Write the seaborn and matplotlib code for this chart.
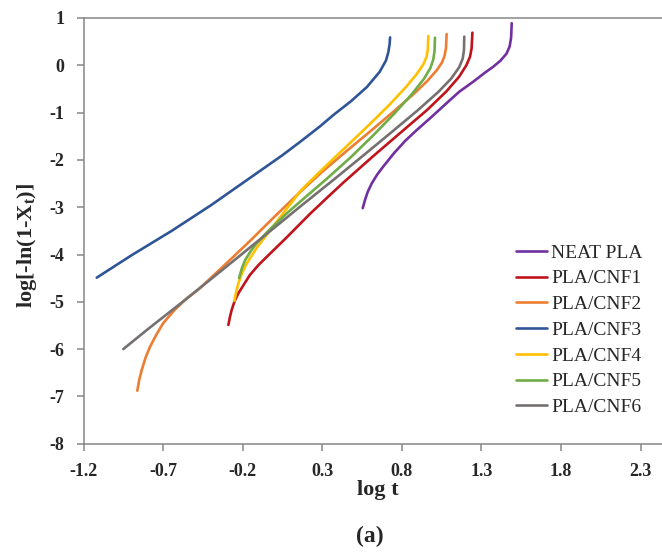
import numpy as np
import pandas as pd
import matplotlib
matplotlib.use("Agg")
import matplotlib.pyplot as plt
import seaborn as sns

# Avrami plot: log[-ln(1-Xt)] against log t for each composition
samples = ["NEAT PLA", "PLA/CNF1", "PLA/CNF2", "PLA/CNF3", "PLA/CNF4", "PLA/CNF5", "PLA/CNF6"]

neat_x = [0.554, 0.568, 0.585, 0.61, 0.645, 0.683, 0.75, 0.82, 0.893, 0.99, 1.081, 1.16, 1.249, 1.32, 1.374, 1.42, 1.458, 1.477, 1.486, 1.49]
neat_y = [-3.02, -2.85, -2.68, -2.50, -2.31, -2.14, -1.86, -1.60, -1.37, -1.08, -0.80, -0.56, -0.345, -0.16, -0.03, 0.10, 0.25, 0.40, 0.58, 0.89]

cnf1_x = [-0.290, -0.280, -0.269, -0.250, -0.227, -0.190, -0.154, -0.10, -0.049, 0.076, 0.223, 0.33, 0.432, 0.62, 0.80, 0.96, 1.08, 1.16, 1.205, 1.228, 1.238, 1.243]
cnf1_y = [-5.49, -5.32, -5.17, -4.98, -4.82, -4.62, -4.43, -4.22, -4.05, -3.64, -3.14, -2.80, -2.48, -1.92, -1.40, -0.94, -0.55, -0.24, 0.00, 0.18, 0.36, 0.69]

cnf2_x = [-0.862, -0.850, -0.834, -0.810, -0.782, -0.740, -0.699, -0.630, -0.562, -0.468, -0.30, -0.15, 0.0, 0.16, 0.30, 0.45, 0.60, 0.74, 0.87, 0.96, 1.02, 1.052, 1.068, 1.077, 1.081]
cnf2_y = [-6.88, -6.65, -6.44, -6.18, -5.95, -5.68, -5.45, -5.18, -4.96, -4.71, -4.18, -3.70, -3.20, -2.68, -2.25, -1.82, -1.40, -1.00, -0.62, -0.33, -0.10, 0.06, 0.20, 0.36, 0.66]

cnf3_x = [-1.117, -0.9, -0.646, -0.4, -0.175, 0.05, 0.16, 0.286, 0.37, 0.48, 0.58, 0.66, 0.70, 0.715, 0.723, 0.726]
cnf3_y = [-4.49, -4.02, -3.50, -2.96, -2.43, -1.90, -1.62, -1.29, -1.05, -0.76, -0.46, -0.14, 0.10, 0.28, 0.45, 0.59]

cnf4_x = [-0.252, -0.240, -0.227, -0.205, -0.175, -0.110, -0.03, 0.07, 0.17, 0.30, 0.45, 0.60, 0.72, 0.82, 0.89, 0.935, 0.955, 0.963, 0.966]
cnf4_y = [-4.98, -4.78, -4.61, -4.40, -4.19, -3.85, -3.50, -3.06, -2.63, -2.20, -1.72, -1.24, -0.84, -0.48, -0.20, 0.02, 0.18, 0.34, 0.62]

cnf5_x = [-0.223, -0.205, -0.185, -0.150, -0.112, -0.03, 0.08, 0.20, 0.338, 0.48, 0.62, 0.75, 0.86, 0.94, 0.98, 0.997, 1.005, 1.008]
cnf5_y = [-4.50, -4.29, -4.12, -3.93, -3.76, -3.47, -3.12, -2.77, -2.37, -1.94, -1.48, -1.03, -0.62, -0.28, -0.05, 0.12, 0.30, 0.585]

cnf6_x = [-0.950, -0.80, -0.562, -0.30, 0.0, 0.160, 0.369, 0.56, 0.74, 0.90, 1.03, 1.11, 1.16, 1.182, 1.190, 1.192]
cnf6_y = [-6.00, -5.59, -4.96, -4.25, -3.43, -2.99, -2.425, -1.90, -1.40, -0.95, -0.56, -0.28, -0.04, 0.14, 0.32, 0.606]

colors = ["#7030A0", "#C0141C", "#ED7D31", "#2F5597", "#FFC000", "#70AD47", "#767171"]

x_ticks = [-1.2, -0.7, -0.2, 0.3, 0.8, 1.3, 1.8, 2.3]
x_tick_labels = ["-1.2", "-0.7", "-0.2", "0.3", "0.8", "1.3", "1.8", "2.3"]
y_ticks = [-8, -7, -6, -5, -4, -3, -2, -1, 0, 1]

series_x = [neat_x, cnf1_x, cnf2_x, cnf3_x, cnf4_x, cnf5_x, cnf6_x]
series_y = [neat_y, cnf1_y, cnf2_y, cnf3_y, cnf4_y, cnf5_y, cnf6_y]

frames = []
for name, xs, ys in zip(samples, series_x, series_y):
    frames.append(pd.DataFrame({"log t": xs, "value": ys, "sample": name}))
df = pd.concat(frames, ignore_index=True)

sns.set_theme(style="white")
plt.rcParams["font.family"] = ["Liberation Serif", "DejaVu Serif"]
plt.rcParams["axes.unicode_minus"] = False
plt.rcParams["mathtext.fontset"] = "custom"
plt.rcParams["mathtext.rm"] = "Liberation Serif:bold"
plt.rcParams["mathtext.bf"] = "Liberation Serif:bold"

fig = plt.figure(figsize=(6.62, 5.53), dpi=100)
ax = fig.add_axes([83.5 / 662, 1 - 443.7 / 553, 1 - 83.5 / 662, (443.7 - 18) / 553])

sns.lineplot(data=df, x="log t", y="value", hue="sample", hue_order=samples,
             palette=dict(zip(samples, colors)), sort=False, estimator=None,
             units="sample", linewidth=1.9, ax=ax)

ax.set_xlim(-1.2, 2.434)
ax.set_ylim(-8, 1)
ax.set_xticks(x_ticks)
ax.set_xticklabels(x_tick_labels)
ax.set_yticks(y_ticks)
ax.set_yticklabels([str(v) for v in y_ticks])

spine_color = "#868686"
for side in ["left", "top", "bottom"]:
    ax.spines[side].set_color(spine_color)
    ax.spines[side].set_linewidth(1.1)
ax.spines["right"].set_visible(False)

ax.tick_params(axis="both", which="major", direction="out", length=5, width=1.1,
               color=spine_color, labelsize=13, pad=9)
ax.tick_params(axis="x", top=False, bottom=True)
ax.tick_params(axis="y", left=True, right=False)
for lbl in ax.get_xticklabels() + ax.get_yticklabels():
    lbl.set_fontweight("bold")

ax.set_xlabel("log t", fontsize=16, fontweight="bold", labelpad=0)
ax.set_ylabel(r"log[-ln(1-X$_{\mathrm{t}}$)]", fontsize=16, fontweight="bold")
ax.xaxis.set_label_coords((378 - 83.5) / (662 - 83.5), -(490 - 443.7) / (443.7 - 18))
ax.yaxis.set_label_coords(-(83.5 - 27) / (662 - 83.5), (443.7 - 246) / (443.7 - 18))
ax.xaxis.label.set_va("center")
ax.yaxis.label.set_va("center")

handles, labels = ax.get_legend_handles_labels()
leg = ax.legend(handles, labels, loc="upper left", frameon=False,
                bbox_to_anchor=((516 - 83.5) / (662 - 83.5), (443.7 - 244) / (443.7 - 18)),
                fontsize=14, handlelength=1.6, handletextpad=0.2, labelspacing=0.42,
                borderpad=0, borderaxespad=0)
for line in leg.get_lines():
    line.set_linewidth(1.9)

fig.text(370 / 662, 1 - 536.7 / 553, "(a)", fontsize=17, fontweight="bold",
         ha="center", va="center")

fig.savefig("out.png", dpi=100)
